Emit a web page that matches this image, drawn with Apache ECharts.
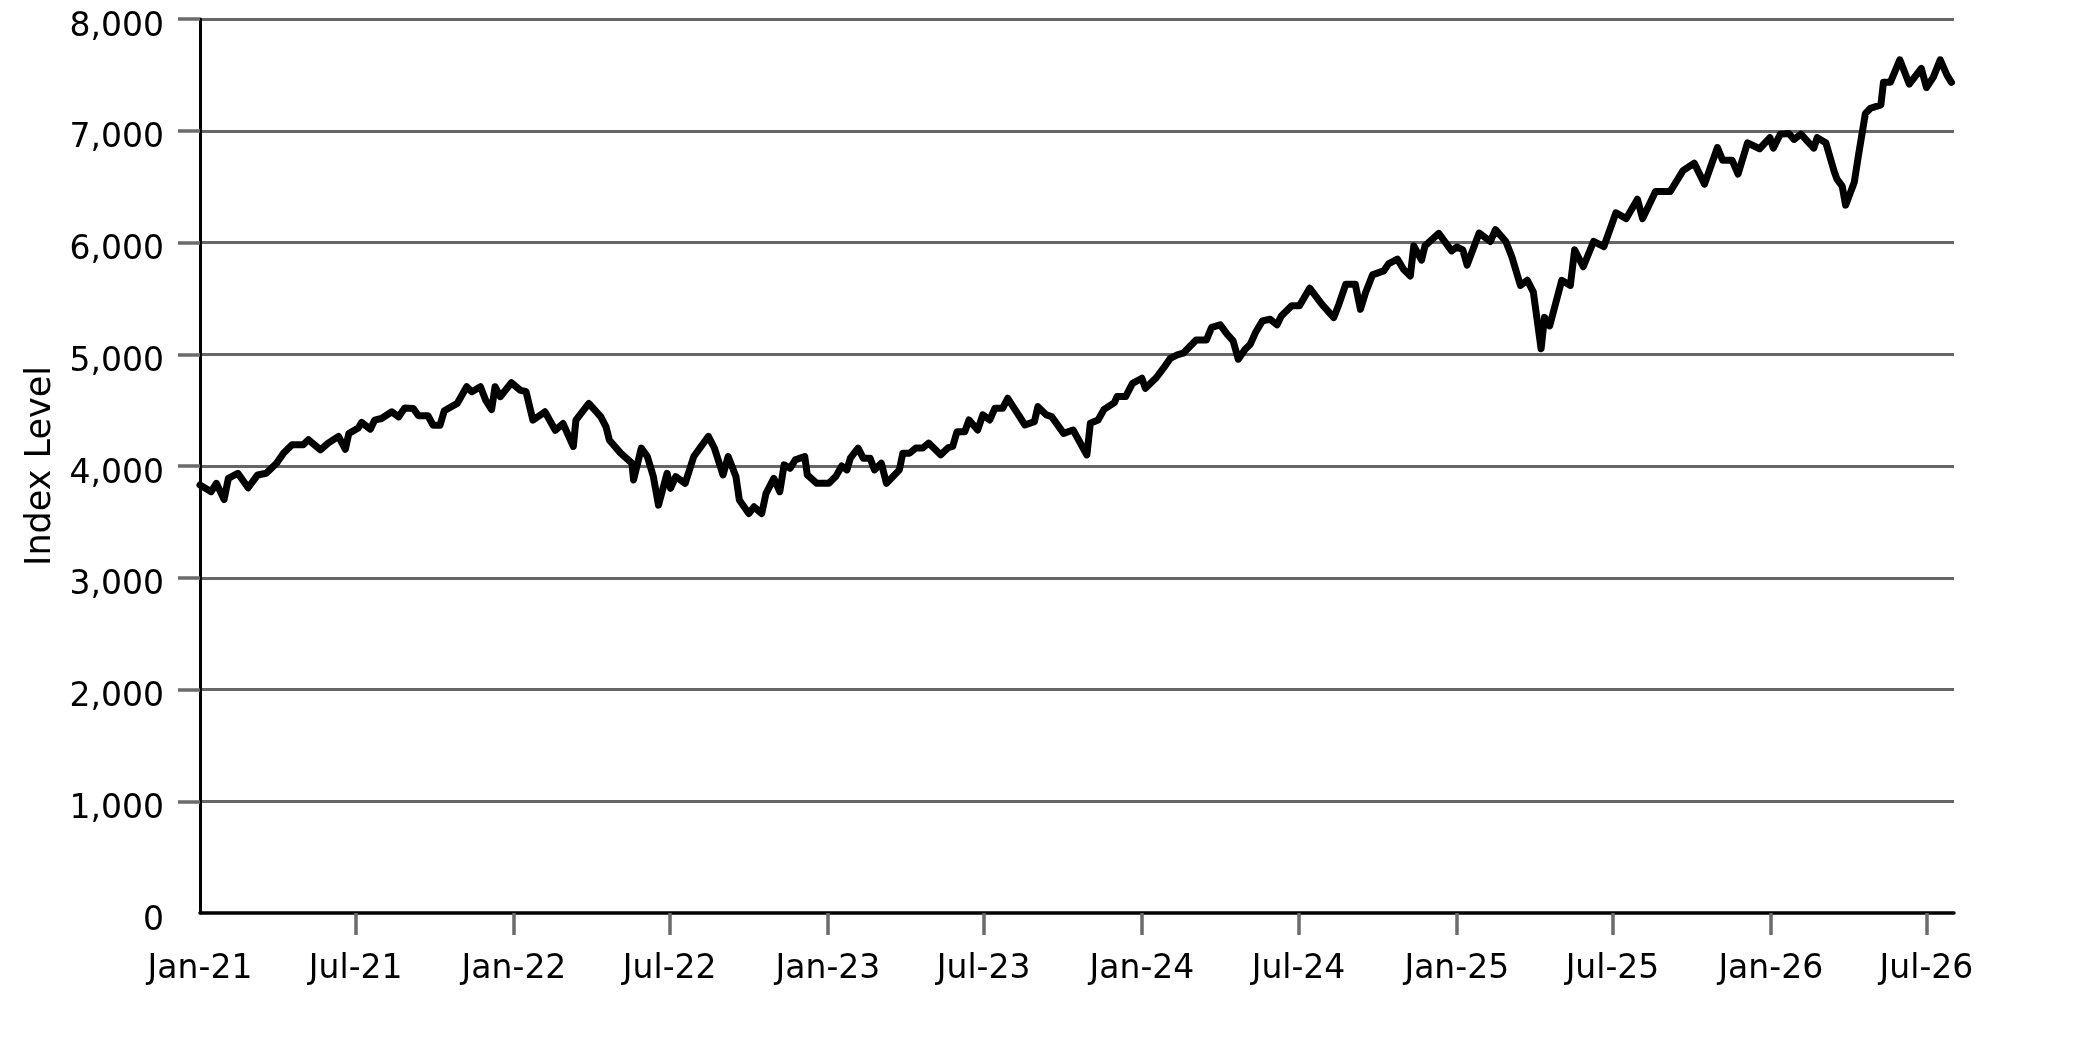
<!DOCTYPE html>
<html>
<head>
<meta charset="utf-8">
<script src="https://cdn.jsdelivr.net/npm/echarts@6/dist/echarts.min.js"></script>
<style>
html,body{margin:0;padding:0;background:#fff;}
#chart{width:2083px;height:1042px;}
</style>
</head>
<body>
<div id="chart"></div>
<script>
const dates = [
'2021-01-01','2021-01-14','2021-01-20','2021-01-29','2021-02-03','2021-02-14','2021-02-26','2021-03-09','2021-03-19','2021-03-31',
'2021-04-08','2021-04-18','2021-05-01','2021-05-07','2021-05-21','2021-05-30','2021-06-11','2021-06-19','2021-06-23','2021-07-04',
'2021-07-08','2021-07-18','2021-07-23','2021-07-31','2021-08-12','2021-08-20','2021-08-27','2021-09-06','2021-09-12','2021-09-23',
'2021-09-29','2021-10-07','2021-10-12','2021-10-27','2021-11-07','2021-11-13','2021-11-23','2021-11-29','2021-12-06','2021-12-10',
'2021-12-16','2021-12-29','2022-01-08','2022-01-15','2022-01-23','2022-02-06','2022-02-18','2022-02-27','2022-03-11','2022-03-14',
'2022-03-29','2022-04-12','2022-04-18','2022-04-22','2022-05-05','2022-05-18','2022-05-20','2022-05-29','2022-06-05','2022-06-12',
'2022-06-18','2022-06-28','2022-07-02','2022-07-08','2022-07-19','2022-07-29','2022-08-15','2022-08-22','2022-09-01','2022-09-07',
'2022-09-16','2022-09-20','2022-10-01','2022-10-07','2022-10-16','2022-10-21','2022-10-30','2022-11-06','2022-11-11','2022-11-18',
'2022-11-24','2022-12-05','2022-12-08','2022-12-19','2023-01-02','2023-01-10','2023-01-17','2023-01-23','2023-01-27','2023-02-05',
'2023-02-11','2023-02-19','2023-02-24','2023-03-04','2023-03-10','2023-03-25','2023-03-29','2023-04-06','2023-04-13','2023-04-21',
'2023-04-28','2023-05-12','2023-05-21','2023-05-26','2023-05-31','2023-06-09','2023-06-14','2023-06-24','2023-06-30','2023-07-08',
'2023-07-14','2023-07-23','2023-07-29','2023-08-08','2023-08-18','2023-08-29','2023-09-02','2023-09-12','2023-09-18','2023-10-02',
'2023-10-13','2023-10-29','2023-11-02','2023-11-11','2023-11-18','2023-11-30','2023-12-03','2023-12-13','2023-12-21','2024-01-01',
'2024-01-05','2024-01-17','2024-01-26','2024-02-03','2024-02-11','2024-02-18','2024-03-04','2024-03-16','2024-03-22','2024-04-01',
'2024-04-09','2024-04-16','2024-04-22','2024-04-30','2024-05-06','2024-05-12','2024-05-20','2024-05-29','2024-06-06','2024-06-11',
'2024-06-23','2024-07-02','2024-07-14','2024-07-28','2024-08-11','2024-08-17','2024-08-25','2024-09-05','2024-09-11','2024-09-17',
'2024-09-25','2024-10-08','2024-10-14','2024-10-24','2024-10-31','2024-11-08','2024-11-12','2024-11-21','2024-11-25','2024-12-11',
'2024-12-26','2025-01-01','2025-01-08','2025-01-13','2025-01-27','2025-02-09','2025-02-15','2025-02-27','2025-03-06','2025-03-16',
'2025-03-24','2025-03-31','2025-04-09','2025-04-13','2025-04-19','2025-05-03','2025-05-13','2025-05-18','2025-05-28','2025-06-09',
'2025-06-21','2025-07-05','2025-07-17','2025-07-30','2025-08-05','2025-08-20','2025-09-06','2025-09-21','2025-10-04','2025-10-16',
'2025-10-31','2025-11-06','2025-11-17','2025-11-24','2025-12-05','2025-12-19','2025-12-31','2026-01-04','2026-01-12','2026-01-22',
'2026-01-28','2026-02-05','2026-02-20','2026-02-24','2026-03-06','2026-03-16','2026-03-19','2026-03-25','2026-03-29','2026-04-08',
'2026-04-13','2026-04-21','2026-04-27','2026-05-09','2026-05-12','2026-05-20','2026-05-31','2026-06-11','2026-06-25','2026-07-01',
'2026-07-09','2026-07-17','2026-07-25','2026-07-30'
];
const indexLevel = [
3830,3770,3845,3700,3890,3935,3805,3920,3935,4025,
4115,4190,4190,4235,4145,4205,4265,4150,4290,4340,
4390,4330,4410,4425,4485,4440,4520,4515,4450,4450,
4365,4365,4495,4560,4710,4665,4710,4590,4505,4710,
4620,4745,4680,4665,4410,4485,4320,4380,4175,4410,
4560,4440,4350,4230,4115,4025,3875,4160,4085,3905,
3650,3935,3800,3905,3845,4085,4265,4160,3920,4085,
3905,3695,3575,3635,3575,3755,3890,3770,4010,3980,
4055,4085,3920,3845,3845,3905,4000,3965,4070,4160,
4070,4070,3965,4025,3845,3965,4115,4115,4160,4160,
4205,4100,4165,4175,4307,4307,4412,4322,4457,4412,
4516,4516,4606,4487,4367,4397,4531,4457,4442,4292,
4322,4099,4382,4412,4507,4567,4621,4621,4740,4785,
4695,4785,4875,4964,4994,5009,5128,5128,5240,5263,
5180,5120,4955,5045,5090,5194,5298,5313,5263,5343,
5433,5433,5591,5448,5328,5448,5627,5627,5403,5552,
5710,5746,5812,5851,5761,5701,5970,5842,5970,6081,
5925,5960,5934,5798,6085,6009,6115,6009,5873,5616,
5662,5556,5049,5330,5254,5662,5616,5934,5783,6009,
5964,6266,6214,6387,6214,6456,6456,6643,6710,6522,
6850,6737,6737,6613,6892,6839,6938,6845,6969,6975,
6923,6969,6845,6938,6892,6628,6567,6505,6334,6536,
6783,7155,7201,7232,7433,7433,7635,7418,7557,7387,
7480,7635,7495,7433
];
const xTickDates = ['2021-01-01','2021-07-01','2022-01-01','2022-07-01','2023-01-01','2023-07-01','2024-01-01','2024-07-01','2025-01-01','2025-07-01','2026-01-01','2026-07-01'];
const xTickLabels = ['Jan-21','Jul-21','Jan-22','Jul-22','Jan-23','Jul-23','Jan-24','Jul-24','Jan-25','Jul-25','Jan-26','Jul-26'];
const xAxisEnd = '2026-08-02';
const yTicks = [0,1000,2000,3000,4000,5000,6000,7000,8000];
const yTickLabels = ['0','1,000','2,000','3,000','4,000','5,000','6,000','7,000','8,000'];
const yAxisTitle = 'Index Level';

const toTime = (d) => new Date(d + 'T00:00:00Z').getTime();
const seriesData = dates.map((d, i) => [toTime(d), indexLevel[i]]);
const tickTimes = xTickDates.map(toTime);
const labelFor = (v) => {
  let best = 0, bd = Infinity;
  tickTimes.forEach((t, i) => { const dd = Math.abs(t - v); if (dd < bd) { bd = dd; best = i; } });
  return xTickLabels[best];
};

const font = 'DejaVu Sans';
const chart = echarts.init(document.getElementById('chart'), null, {renderer: 'canvas'});
chart.setOption({
  animation: false,
  backgroundColor: '#ffffff',
  grid: {left: 200, right: 129, top: 19, bottom: 129, containLabel: false},
  xAxis: {
    type: 'value',
    min: toTime(dates[0]),
    max: toTime(xAxisEnd),
    axisLine: {show: true, onZero: false, lineStyle: {color: '#000', width: 3.5}},
    axisTick: {show: true, length: 22, lineStyle: {color: '#6b6b6b', width: 3.5}, customValues: tickTimes.slice(1)},
    axisLabel: {
      customValues: tickTimes,
      formatter: (v) => labelFor(v),
      color: '#000', fontFamily: font, fontSize: 33, margin: 40,
      showMinLabel: true, showMaxLabel: true, hideOverlap: false
    },
    splitLine: {show: false}
  },
  yAxis: {
    type: 'value',
    min: 0, max: 8000, interval: 1000,
    name: yAxisTitle,
    nameLocation: 'middle',
    nameGap: 128,
    nameRotate: 90,
    nameTextStyle: {color: '#000', fontFamily: font, fontSize: 35},
    axisLine: {show: true, lineStyle: {color: '#000', width: 3}},
    axisTick: {show: true, length: 22, lineStyle: {color: '#6b6b6b', width: 3.5}, customValues: yTicks.slice(1)},
    axisLabel: {
      color: '#000', fontFamily: font, fontSize: 33, margin: 36,
      formatter: (v) => {
        const i = yTicks.indexOf(v);
        return '{t|' + (i >= 0 ? yTickLabels[i] : String(v)) + '}';
      },
      rich: {t: {color: '#000', fontFamily: font, fontSize: 33, padding: [16, 0, 0, 0]}}
    },
    splitLine: {show: true, lineStyle: {color: '#666666', width: 3.2}}
  },
  series: [{
    type: 'line',
    data: seriesData,
    showSymbol: false,
    symbol: 'none',
    lineStyle: {color: '#000', width: 7, cap: 'round', join: 'round'},
    z: 5
  }]
});
</script>
</body>
</html>
